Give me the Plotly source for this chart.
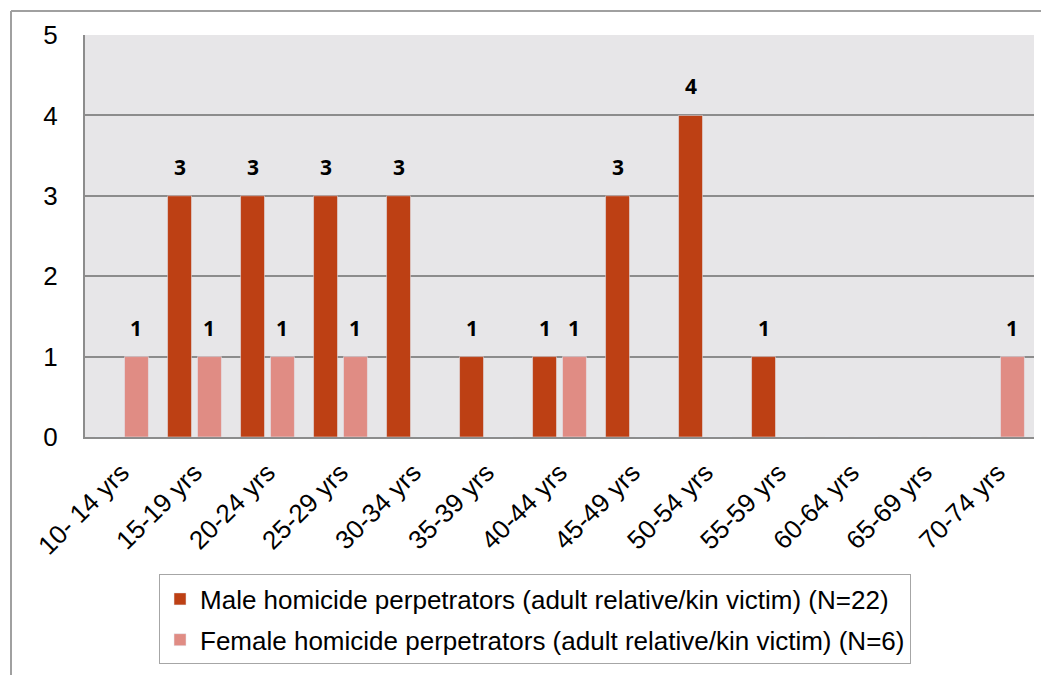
import plotly.graph_objects as go

categories = ["10- 14 yrs", "15-19 yrs", "20-24 yrs", "25-29 yrs", "30-34 yrs", "35-39 yrs",
              "40-44 yrs", "45-49 yrs", "50-54 yrs", "55-59 yrs", "60-64 yrs", "65-69 yrs", "70-74 yrs"]
male = [0, 3, 3, 3, 3, 1, 1, 3, 4, 1, 0, 0, 0]
female = [1, 1, 1, 1, 0, 0, 1, 0, 0, 0, 0, 0, 1]
male_name = "Male homicide perpetrators (adult relative/kin victim) (N=22)"
female_name = "Female homicide perpetrators (adult relative/kin victim) (N=6)"
y_ticks = [0, 1, 2, 3, 4, 5]

MALE_C = "#BD4014"
FEMALE_C = "#E08C84"

fig = go.Figure()
fig.add_trace(go.Bar(x=categories, y=male, name=male_name, marker_color=MALE_C,
                     offsetgroup="m", legendgroup="m"))
fig.add_trace(go.Bar(x=categories, y=female, name=female_name, marker_color=FEMALE_C,
                     offsetgroup="f", legendgroup="f"))

label_font = dict(family="Open Sans", size=21, color="black")
annotations = []
for i, v in enumerate(male):
    if v:
        annotations.append(dict(x=i - 0.205, y=v, xref="x", yref="y", text="<b>%d</b>" % v,
                                showarrow=False, yanchor="bottom", yshift=13, font=label_font))
for i, v in enumerate(female):
    if v:
        annotations.append(dict(x=i + 0.205, y=v, xref="x", yref="y", text="<b>%d</b>" % v,
                                showarrow=False, yanchor="bottom", yshift=13, font=label_font))

# page body has an 8px margin: compensate so the plot area lands at x 85-1034, y 33-437
fig.update_layout(
    width=1049, height=675,
    margin=dict(l=77, r=23, t=25, b=246),
    paper_bgcolor="white",
    plot_bgcolor="#E7E6E8",
    barmode="group",
    bargap=0.18,
    bargroupgap=0.2,
    font=dict(family="Liberation Sans", size=26, color="black"),
    annotations=annotations,
    showlegend=True,
    legend=dict(x=0.078, y=-0.342, xanchor="left", yanchor="top",
                bordercolor="#A6A6A6", borderwidth=1, bgcolor="white",
                font=dict(family="Liberation Sans", size=26, color="black"),
                tracegroupgap=4, itemwidth=30),
    shapes=[
        dict(type="line", xref="paper", yref="paper",
             x0=(11 - 85) / 949, x1=(11 - 85) / 949, y0=(437 - 9) / 404, y1=(437 - 690) / 404,
             line=dict(color="#A0A0A0", width=2)),
        dict(type="line", xref="paper", yref="paper",
             x0=(11 - 85) / 949, x1=(1070 - 85) / 949, y0=(437 - 9) / 404, y1=(437 - 9) / 404,
             line=dict(color="#A0A0A0", width=2)),
    ],
)
fig.update_xaxes(type="category", tickangle=-45, showline=True, linecolor="#8C8C8C", linewidth=2,
                 ticks="", showgrid=False, ticklabelstandoff=8,
                 tickfont=dict(family="Liberation Sans", size=26))
fig.update_yaxes(range=[0, 5], tickvals=y_ticks, showline=True, linecolor="#8C8C8C", linewidth=2,
                 gridcolor="#8C8C8C", gridwidth=2, zeroline=False, ticks="",
                 ticklabelstandoff=20, tickfont=dict(family="Liberation Sans", size=26))

fig.write_html("out.html")
